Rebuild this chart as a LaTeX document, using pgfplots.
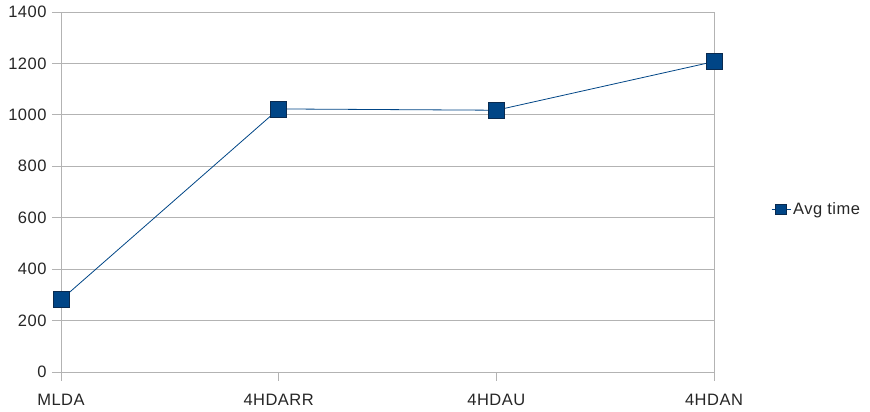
\documentclass[border=0pt]{standalone}
\usepackage{fontspec}
\setmainfont[LetterSpace=3]{Liberation Sans}
\usepackage{pgfplots}
\pgfplotsset{compat=1.18}
\definecolor{series}{HTML}{004586}
\definecolor{seriesedge}{HTML}{0A2A4F}
\definecolor{gridgray}{HTML}{B3B3B3}
\begin{document}
\begin{tikzpicture}
\begin{axis}[
  at={(0pt,0pt)}, anchor=south west,
  scale only axis,
  width=653pt, height=360pt,
  xmin=0, xmax=3, ymin=0, ymax=1400,
  xtick={0,1,2,3},
  xticklabels={MLDA,4HDARR,4HDAU,4HDAN},
  ytick={0,200,...,1400},
  ymajorgrids,
  grid style={gridgray, line width=0.8pt},
  axis line style={gridgray, line width=0.8pt},
  tick style={gridgray, line width=0.8pt},
  tick align=outside,
  major tick length=9pt,
  xtick pos=bottom, ytick pos=left,
  tick label style={font=\fontsize{16.5}{18}\selectfont, text=black!85},
  /pgf/number format/assume math mode=true,
  /pgf/number format/1000 sep={},
  yticklabel style={xshift=-2pt},
  xticklabel style={yshift=-10pt},
  clip=false,
  legend style={draw=none, fill=none, at={(710pt,163pt)}, anchor=west,
    font=\fontsize{16.5}{18}\selectfont, text=black!85,
    legend cell align=left, inner sep=0pt,
    /tikz/every even column/.style={column sep=0pt}},
  legend image code/.code={
    \draw[series, line width=0.9pt] (0pt,0pt) -- (19pt,0pt);
    \draw[seriesedge, fill=series, line width=0.5pt] (4pt,-5pt) rectangle (15pt,5pt);
  },
]
\addplot[series, line width=0.8pt, mark=square*, mark size=8pt,
  mark options={fill=series, draw=seriesedge, line width=0.6pt}]
  coordinates {(0,281) (1,1023) (2,1018) (3,1207)};
\addlegendentry{Avg time}
\end{axis}
\useasboundingbox (-61pt,-40pt) rectangle (809pt,372pt);
\end{tikzpicture}
\end{document}
